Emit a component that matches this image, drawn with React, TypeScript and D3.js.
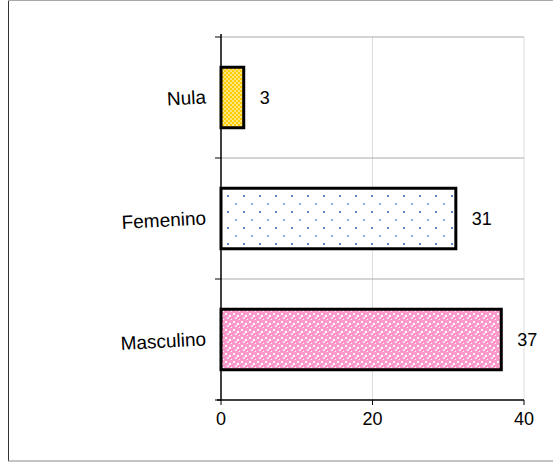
import React from "react";
import * as d3 from "d3";

const categories = ["Nula", "Femenino", "Masculino"];
const values = [3, 31, 37];
const xTicks = [0, 20, 40];
const patternIds = ["patYellow", "patDots", "patPink"];

const W = 553;
const H = 462;
const margin = { left: 221, right: 29, top: 37, bottom: 62 };

export default function App() {
  const x = d3.scaleLinear().domain([0, 40]).range([margin.left, W - margin.right]);
  const y = d3
    .scaleBand<string>()
    .domain(categories)
    .range([margin.top, H - margin.bottom])
    .paddingInner(0.5)
    .paddingOuter(0.25);
  const step = y.step();
  const boundaries = d3.range(categories.length + 1).map((i) => margin.top + i * step);
  const font = "'Liberation Sans', Arial, sans-serif";

  return (
    <svg
      width={W}
      height={H}
      style={{ position: "absolute", left: 0, top: 0, background: "#fff" }}
    >
      <defs>
        <pattern id="patYellow" width={4} height={4} patternUnits="userSpaceOnUse">
          <rect width={4} height={4} fill="#FFCC00" />
          <rect x={0} y={0} width={2} height={2} fill="#FFE680" />
          <rect x={2} y={2} width={2} height={2} fill="#FFE680" />
        </pattern>
        <pattern id="patDots" width={16} height={16} patternUnits="userSpaceOnUse">
          <rect width={16} height={16} fill="#fff" />
          <rect x={3} y={3} width={2} height={2} fill="#5F86CF" />
          <rect x={11} y={11} width={2} height={2} fill="#92AEE3" />
        </pattern>
        <pattern id="patPink" width={8} height={8} patternUnits="userSpaceOnUse">
          <rect width={8} height={8} fill="#FF99CC" />
          <rect x={1} y={1} width={2} height={2} fill="#fff" />
          <rect x={5} y={3} width={2} height={2} fill="#fff" />
          <rect x={3} y={5} width={2} height={2} fill="#FFE0F0" />
          <rect x={7} y={7} width={1} height={1} fill="#fff" />
        </pattern>
      </defs>

      {/* outer frame */}
      <line x1={8.5} y1={0} x2={8.5} y2={461} stroke="#333" strokeWidth={1} />
      <line x1={8} y1={0.5} x2={W} y2={0.5} stroke="#aaa" strokeWidth={1} />
      <line x1={8} y1={461} x2={W} y2={461} stroke="#888" strokeWidth={1} />

      {/* grid */}
      {xTicks.slice(1).map((t) => (
        <line
          key={"gx" + t}
          x1={x(t)}
          x2={x(t)}
          y1={margin.top}
          y2={H - margin.bottom}
          stroke="#ddd"
          strokeWidth={1}
        />
      ))}
      {boundaries.slice(0, -1).map((b, i) => (
        <line
          key={"gy" + i}
          x1={x(0)}
          x2={x(40)}
          y1={b}
          y2={b}
          stroke="#aaa"
          strokeWidth={1}
        />
      ))}

      {/* bars */}
      {categories.map((c, i) => (
        <rect
          key={c}
          x={x(0)}
          y={y(c)}
          width={x(values[i]) - x(0)}
          height={y.bandwidth()}
          fill={`url(#${patternIds[i]})`}
          stroke="#000"
          strokeWidth={3}
        />
      ))}

      {/* axes */}
      <line x1={x(0)} x2={x(0)} y1={margin.top - 3} y2={H - margin.bottom} stroke="#000" strokeWidth={1.5} />
      <line x1={x(0) - 4} x2={x(40)} y1={H - margin.bottom} y2={H - margin.bottom} stroke="#000" strokeWidth={1.5} />
      {boundaries.map((b, i) => (
        <line key={"ty" + i} x1={x(0) - 6} x2={x(0)} y1={b} y2={b} stroke="#000" strokeWidth={1} />
      ))}
      {xTicks.map((t) => (
        <g key={"tx" + t}>
          <line x1={x(t)} x2={x(t)} y1={H - margin.bottom} y2={H - margin.bottom + 5} stroke="#000" strokeWidth={1} />
          <text
            x={x(t)}
            y={H - margin.bottom + 25}
            textAnchor="middle"
            fontFamily={font}
            fontSize={18}
            fill="#000"
          >
            {t}
          </text>
        </g>
      ))}

      {/* category labels */}
      {categories.map((c) => {
        const cy = (y(c) as number) + y.bandwidth() / 2;
        return (
          <text
            key={"cl" + c}
            x={206}
            y={cy + 6}
            textAnchor="end"
            fontFamily={font}
            fontSize={19}
            fill="#000"
            transform={`rotate(-3, 206, ${cy})`}
          >
            {c}
          </text>
        );
      })}

      {/* value labels */}
      {categories.map((c, i) => {
        const cy = (y(c) as number) + y.bandwidth() / 2;
        return (
          <text
            key={"vl" + c}
            x={x(values[i]) + 16}
            y={cy + 6}
            textAnchor="start"
            fontFamily={font}
            fontSize={18}
            fill="#000"
          >
            {values[i]}
          </text>
        );
      })}
    </svg>
  );
}
